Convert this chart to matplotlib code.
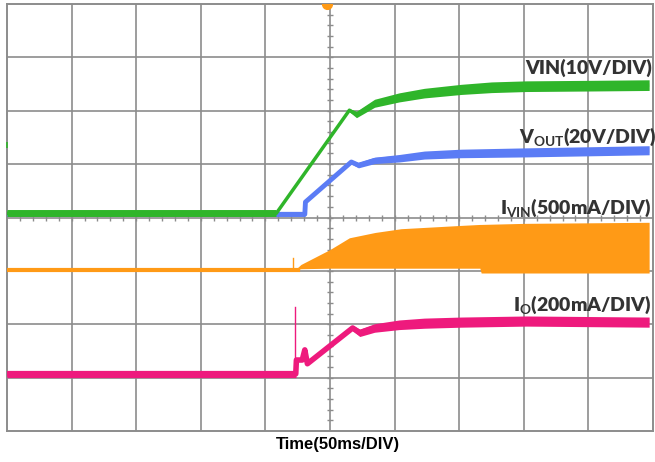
import numpy as np
import matplotlib
matplotlib.use("Agg")
import matplotlib.pyplot as plt

# Screen coordinates are in divisions: 10 horizontal (50 ms each), 8 vertical.
# VIN (10 V/div)
vin_t = [0.0, 4.17, 5.30, 5.41, 5.69, 6.07, 6.46, 7.03, 7.50, 8.04, 9.04, 9.94]
vin_v = [4.08, 4.08, 6.01, 5.93, 6.14, 6.25, 6.33, 6.40, 6.44, 6.46, 6.47, 6.48]

# VOUT (20 V/div)
vout_t = [0.0, 4.61, 4.62, 5.33, 5.44, 5.69, 6.07, 6.46, 7.03, 8.04, 9.94]
vout_v = [4.06, 4.06, 4.29, 5.04, 4.98, 5.07, 5.11, 5.17, 5.20, 5.22, 5.26]

# IVIN (500 mA/div): baseline, then switching envelope
ivin_base_t = [0.0, 4.50]
ivin_base_v = [3.01, 3.01]
ivin_env_t = [4.45, 4.55, 5.00, 5.30, 5.70, 6.10, 7.00, 7.32, 7.34, 8.00, 9.94]
ivin_env_top = [3.01, 3.12, 3.40, 3.62, 3.72, 3.79, 3.85, 3.87, 3.87, 3.89, 3.91]
ivin_env_bot = [3.01, 3.04, 3.05, 3.05, 3.05, 3.05, 3.05, 3.05, 2.96, 2.96, 2.96]
ivin_spike_t = [4.42, 4.42]
ivin_spike_v = [3.01, 3.25]

# IO (200 mA/div)
io_t = [0.0, 4.47, 4.48, 4.57, 4.61, 4.65, 5.35, 5.46, 5.69, 6.07, 6.46, 7.03, 8.04, 9.94]
io_v = [1.07, 1.07, 1.33, 1.33, 1.52, 1.26, 1.93, 1.84, 1.93, 1.99, 2.02, 2.04, 2.06, 2.04]
io_spike_t = [4.46, 4.46]
io_spike_v = [1.07, 2.32]

GREEN = "#2fb52a"
BLUE = "#5b7cf5"
ORANGE = "#ff9a16"
PINK = "#ee1a7d"
GRID = "#8c8c8c"
LABEL = "#333333"

W, H = 655, 462
fig = plt.figure(figsize=(W / 100, H / 100), dpi=100)
ax = fig.add_axes([7 / W, (H - 431) / H, 646 / W, 427 / H])
ax.set_xlim(0, 10)
ax.set_ylim(0, 8)
ax.set_xticks([])
ax.set_yticks([])
for s in ax.spines.values():
    s.set_color(GRID)
    s.set_linewidth(1.4)

# graticule
for gx in range(1, 10):
    ax.axvline(gx, color=GRID, lw=1.2, zorder=1)
for gy in range(1, 8):
    ax.axhline(gy, color=GRID, lw=1.2, zorder=1)

# minor ticks on the centre cross
tx = np.arange(0.2, 10, 0.2)
ty = np.arange(0.2, 8, 0.2)
ax.plot(tx, np.full_like(tx, 4.0), ls="none", marker="|", ms=5, mew=1.0, color=GRID, zorder=1)
ax.plot(np.full_like(ty, 5.0), ty, ls="none", marker="_", ms=5, mew=1.0, color=GRID, zorder=1)


def trace(t, v, color, lw, flat_end, band_from, band_hw, flat_lw, z):
    """Thin core line, a thicker flat pre-start segment and a noise band once settled."""
    ax.plot(t, v, color=color, lw=lw, solid_joinstyle="round", solid_capstyle="butt", zorder=z)
    ax.plot(t[:flat_end], v[:flat_end], color=color, lw=flat_lw, solid_capstyle="butt", zorder=z)
    tb = np.asarray(t[band_from:])
    vb = np.asarray(v[band_from:])
    hw = np.asarray(band_hw)
    ax.fill_between(tb, vb - hw, vb + hw, color=color, lw=0, zorder=z)


# IO trace
ax.plot(io_spike_t, io_spike_v, color=PINK, lw=1.0, zorder=3)
trace(io_t, io_v, PINK, 4.0, 2, 6,
      [0.05, 0.07, 0.08, 0.09, 0.095, 0.095, 0.095, 0.095], 5.2, 3)

# IVIN trace
ax.plot(ivin_base_t, ivin_base_v, color=ORANGE, lw=3.0, zorder=3)
ax.plot(ivin_spike_t, ivin_spike_v, color=ORANGE, lw=1.0, zorder=3)
ax.fill_between(ivin_env_t, ivin_env_bot, ivin_env_top, color=ORANGE, lw=0, zorder=3)

# VOUT trace
trace(vout_t, vout_v, BLUE, 3.5, 2, 3,
      [0.035, 0.05, 0.06, 0.07, 0.075, 0.08, 0.085, 0.085], 3.5, 4)

# VIN trace
trace(vin_t, vin_v, GREEN, 2.5, 2, 2,
      [0.03, 0.06, 0.075, 0.085, 0.09, 0.095, 0.10, 0.10, 0.10, 0.10], 5.0, 5)

# trigger marker and channel marker
ax.plot([4.96], [8.0], marker="o", ms=7, color=ORANGE, clip_on=True, zorder=6)
ax.plot([0.0], [5.36], marker="|", ms=4, mew=1.2, color=GREEN, clip_on=False, zorder=6)

plt.rcParams["mathtext.fontset"] = "custom"
plt.rcParams["mathtext.rm"] = "Lato:bold"
plt.rcParams["mathtext.it"] = "Lato:bold"
plt.rcParams["mathtext.bf"] = "Lato:bold"

lab = dict(ha="right", va="center", fontsize=14, family="Lato",
           fontweight="heavy", color=LABEL, zorder=7, clip_on=False)
ax.text(9.98, 6.80, "VIN(10V/DIV)", **lab)
ax.text(10.05, 5.51, r"V$_{\mathrm{OUT}}$(20V/DIV)", **lab)
ax.text(9.98, 4.19, r"I$_{\mathrm{VIN}}$(500mA/DIV)", **lab)
ax.text(9.98, 2.36, r"I$_{\mathrm{O}}$(200mA/DIV)", **lab)

fig.text(338 / W, 1 - 445 / H, "Time(50ms/DIV)", ha="center", va="center",
         fontsize=12, family="Liberation Sans", fontweight="bold", color="black")

fig.savefig("out.png", dpi=100)
